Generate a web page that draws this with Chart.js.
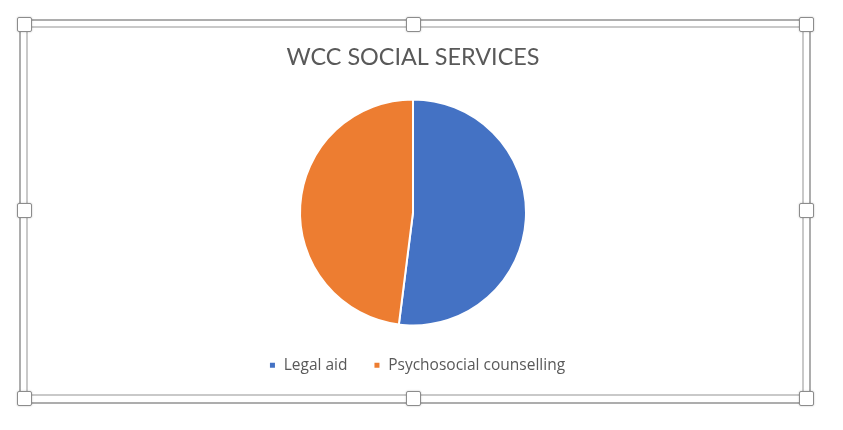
<!DOCTYPE html>
<html>
<head>
<meta charset="utf-8">
<script src="https://cdn.jsdelivr.net/npm/chart.js@4"></script>
<style>
  html, body { margin: 0; padding: 0; background: #fff; }
  #wrap { position: relative; width: 843px; height: 430px; }
  #wrap canvas { position: absolute; left: 0; top: 0; }
  .frame { position: absolute; box-sizing: border-box; pointer-events: none; }
  .outer { left: 19px; top: 19px; width: 792px; height: 385px; border: 2px solid #adadad; }
  .inner { left: 26px; top: 26px; width: 778px; height: 370px; border: 2px solid #c9c9c9; }
  .handle { position: absolute; width: 15px; height: 15px; box-sizing: border-box; background: #fff;
            border: 1px solid #8c8c8c; border-radius: 2px; box-shadow: 0 0 2px rgba(0,0,0,0.25); pointer-events: none; }
</style>
</head>
<body>
<div id="wrap">
  <canvas id="pieChart" width="843" height="430"></canvas>
  <div class="frame outer"></div>
  <div class="frame inner"></div>
</div>
<script>
// datos del gráfico
const title = 'WCC SOCIAL SERVICES';
const categories = ['Legal aid', 'Psychosocial counselling'];
const values = [52, 48];
const colors = ['#4472C4', '#ED7D31'];

// manejadores del marco de selección
const handlePos = [[24, 24], [413, 24], [806, 24], [24, 210], [806, 210], [24, 398], [413, 398], [806, 398]];
handlePos.forEach(p => {
    const h = document.createElement('div');
    h.className = 'handle';
    h.style.left = (p[0] - 7.5) + 'px';
    h.style.top = (p[1] - 7.5) + 'px';
    document.getElementById('wrap').appendChild(h);
});

// desplazar un poco la leyenda a la derecha (como en Excel)
const legendShift = {
    id: 'legendShift',
    afterLayout(chart) {
        if (chart.legend) {
            chart.legend.left += 4;
            chart.legend.right += 4;
        }
    }
};

const ctx = document.getElementById('pieChart');
new Chart(ctx, {
    type: 'pie',
    data: {
        labels: categories,
        datasets: [{
            data: values,
            backgroundColor: colors,
            borderColor: '#fff',
            borderWidth: 2,
            hoverOffset: 0,
            offset: 0,
            radius: 113
        }]
    },
    options: {
        responsive: false,
        animation: false,
        layout: { padding: { top: 0, left: 0, right: 17, bottom: 47 } },
        plugins: {
            title: {
                display: true,
                text: title,
                color: '#595959',
                font: { family: 'Lato', size: 23.4, weight: 'normal', lineHeight: 1.15 },
                padding: { top: 43.5, bottom: 23 }
            },
            legend: {
                position: 'bottom',
                labels: {
                    color: '#595959',
                    font: { family: 'Open Sans', size: 15.5 },
                    boxWidth: 7,
                    boxHeight: 7,
                    padding: 26
                }
            },
            tooltip: { enabled: false }
        }
    },
    plugins: [legendShift]
});
</script>
</body>
</html>
